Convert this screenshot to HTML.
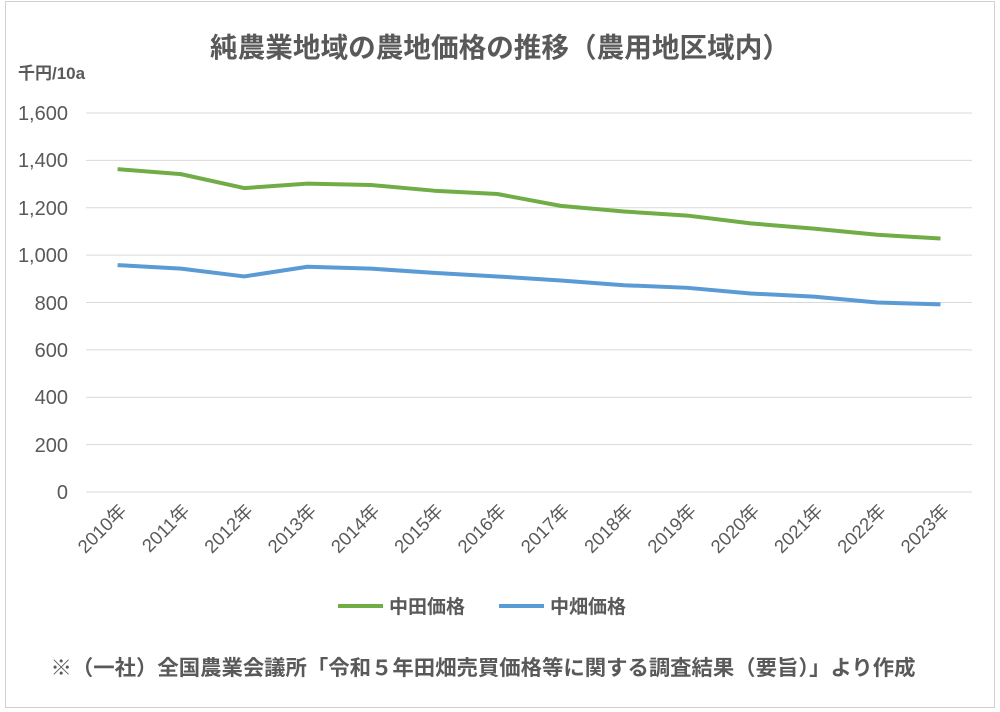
<!DOCTYPE html>
<html><head><meta charset="utf-8"><style>
body{margin:0;background:#fff}
svg{display:block;font-family:"Liberation Sans","Noto Sans CJK JP",sans-serif}
</style></head><body>
<svg width="1000" height="712" viewBox="0 0 1000 712">
<rect x="5.5" y="1.5" width="989" height="706" fill="#fff" stroke="#d0d0d0"/>
<text x="500" y="57" text-anchor="middle" font-size="27.5" font-weight="bold" fill="#595959" textLength="580" lengthAdjust="spacingAndGlyphs">純農業地域の農地価格の推移（農用地区域内）</text>
<text x="18" y="79" font-size="17" font-weight="bold" fill="#595959">千円/10a</text>
<g stroke="#d9d9d9" stroke-width="1">
<line x1="86" x2="972" y1="113" y2="113"/><line x1="86" x2="972" y1="160.4" y2="160.4"/>
<line x1="86" x2="972" y1="207.8" y2="207.8"/><line x1="86" x2="972" y1="255.1" y2="255.1"/>
<line x1="86" x2="972" y1="302.5" y2="302.5"/><line x1="86" x2="972" y1="349.9" y2="349.9"/>
<line x1="86" x2="972" y1="397.3" y2="397.3"/><line x1="86" x2="972" y1="444.6" y2="444.6"/>
<line x1="86" x2="972" y1="492" y2="492"/></g>
<g font-size="20" fill="#595959" text-anchor="end">
<text x="68" y="120">1,600</text><text x="68" y="167">1,400</text><text x="68" y="215">1,200</text>
<text x="68" y="262">1,000</text><text x="68" y="310">800</text><text x="68" y="357">600</text>
<text x="68" y="404">400</text><text x="68" y="452">200</text><text x="68" y="499">0</text></g>
<g font-size="18.5" fill="#595959" text-anchor="end" id="xl"></g>
<polyline fill="none" stroke="#70ad47" stroke-width="4" stroke-linejoin="round" id="g"/>
<polyline fill="none" stroke="#5b9bd5" stroke-width="4" stroke-linejoin="round" id="b"/>
<line x1="338" x2="383" y1="606" y2="606" stroke="#70ad47" stroke-width="4"/>
<text x="389" y="613" font-size="19" font-weight="bold" fill="#595959">中田価格</text>
<line x1="499" x2="544" y1="606" y2="606" stroke="#5b9bd5" stroke-width="4"/>
<text x="550" y="613" font-size="19" font-weight="bold" fill="#595959">中畑価格</text>
<text x="483" y="675" text-anchor="middle" font-size="21" font-weight="bold" fill="#595959" textLength="865" lengthAdjust="spacingAndGlyphs">※（一社）全国農業会議所「令和５年田畑売買価格等に関する調査結果（要旨）」より作成</text>
</svg>
<script>
var G=[1363,1342,1283,1302,1296,1272,1258,1208,1184,1167,1134,1112,1086,1070];
var B=[958,943,910,951,943,925,910,893,873,862,838,825,800,792];
function X(i){return 117.6+i*63.3}function Y(v){return 492-v*379/1600}
document.getElementById('g').setAttribute('points',G.map((v,i)=>X(i)+','+Y(v)).join(' '));
document.getElementById('b').setAttribute('points',B.map((v,i)=>X(i)+','+Y(v)).join(' '));
var s='';for(var i=0;i<14;i++){var x=X(i)+10,y=512;s+='<text x="'+x+'" y="'+y+'" transform="rotate(-45 '+x+' '+y+')">'+(2010+i)+'年</text>';}
document.getElementById('xl').innerHTML=s;
</script>
</body></html>
